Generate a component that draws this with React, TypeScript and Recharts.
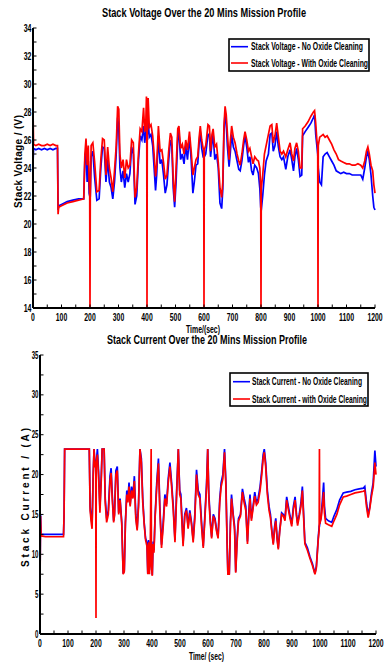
import React from 'react';
import { LineChart, Line, XAxis, YAxis, Legend } from 'recharts';

// ---------------- Stack voltage (V) ----------------
const voltTime = [
  0, 2, 10, 20, 30, 40, 50, 60, 70, 80,
  86, 88, 90, 100, 120, 140, 160, 178, 182, 186,
  190, 194, 197, 199, 200, 201, 204, 210, 216, 224,
  232, 238, 244, 250, 256, 262, 268, 274, 280, 286,
  292, 297, 301, 305, 310, 316, 322, 328, 334, 340,
  346, 352, 358, 364, 370, 376, 382, 388, 392, 396,
  398, 399, 400, 401, 404, 408, 414, 420, 425, 430,
  434, 440, 446, 452, 458, 464, 470, 476, 482, 487,
  492, 497, 502, 508, 512, 518, 524, 530, 536, 542,
  549, 555, 561, 566, 572, 578, 583, 587, 592, 597,
  599, 600, 601, 606, 614, 619, 623, 628, 632, 638,
  644, 650, 656, 662, 666, 670, 674, 678, 682, 688,
  692, 697, 703, 709, 716, 722, 727, 733, 739, 744,
  750, 756, 761, 767, 772, 778, 785, 791, 796, 799,
  800, 801, 806, 812, 818, 826, 832, 838, 843, 849,
  855, 861, 867, 873, 879, 887, 894, 902, 908, 914,
  919, 925, 931, 937, 943, 946, 955, 965, 975, 984,
  988, 992, 996, 999, 1000, 1001, 1006, 1012, 1018, 1025,
  1032, 1040, 1048, 1056, 1064, 1072, 1080, 1090, 1100, 1110,
  1120, 1130, 1140, 1150, 1157, 1164, 1170, 1175, 1180, 1186,
  1192, 1196, 1200,
];

const voltNoClean = [
  24.3, 25.4, 25.3, 25.4, 25.3, 25.4, 25.3, 25.4, 25.3, 25.4,
  25.4, 21.0, 21.3, 21.4, 21.6, 21.7, 21.8, 21.8, 24.6, 25.3,
  23.0, 24.5, 22.2, 22.0, 22.0, 22.0, 24.8, 25.2, 23.4, 21.7,
  21.8, 24.0, 25.5, 25.4, 23.0, 24.6, 23.0, 22.6, 21.8, 23.0,
  25.0, 27.6, 26.8, 24.0, 23.0, 23.8, 22.6, 23.6, 23.0, 23.6,
  25.5, 25.0, 21.4, 22.0, 24.5, 26.3, 26.0, 27.0, 25.8, 26.5,
  27.5, 26.5, 26.4, 26.4, 27.5, 26.2, 26.4, 25.6, 24.0, 22.4,
  23.5, 26.3, 24.3, 24.6, 23.5, 22.2, 22.8, 24.5, 26.0, 25.6,
  22.6, 21.2, 23.0, 26.2, 26.6, 24.6, 25.0, 24.3, 25.6, 24.6,
  26.2, 24.6, 22.2, 23.0, 24.2, 24.3, 25.8, 26.6, 25.4, 24.8,
  24.8, 24.8, 24.8, 25.0, 26.4, 26.4, 24.8, 25.8, 26.4, 24.6,
  25.0, 24.0, 21.5, 21.1, 22.5, 26.5, 28.0, 27.2, 25.6, 24.1,
  25.0, 26.4, 25.5, 25.2, 24.5, 23.9, 23.8, 24.5, 25.6, 26.3,
  25.5, 24.4, 24.8, 23.8, 23.5, 24.2, 24.0, 23.6, 22.5, 21.2,
  21.0, 21.0, 22.0, 23.5, 24.5, 25.0, 26.4, 26.5, 25.2, 25.6,
  26.6, 25.5, 24.8, 24.6, 24.8, 23.9, 24.8, 25.3, 24.6, 23.8,
  24.8, 25.4, 24.6, 23.4, 23.5, 26.3, 26.6, 26.9, 27.2, 27.6,
  27.8, 26.4, 25.6, 25.0, 24.6, 24.0, 23.0, 22.8, 24.8, 25.0,
  25.1, 24.8, 24.5, 24.2, 23.8, 23.7, 23.6, 23.7, 23.6, 23.6,
  23.5, 23.5, 23.5, 23.5, 23.2, 24.0, 24.8, 25.2, 24.6, 23.5,
  22.0, 21.2, 21.0,
];

const voltClean = [
  28.2, 25.7, 25.6, 25.7, 25.6, 25.6, 25.7, 25.6, 25.7, 25.6,
  25.6, 20.7, 21.2, 21.3, 21.5, 21.6, 21.7, 21.8, 25.0, 26.1,
  24.2, 25.6, 23.0, 22.0, 14, 22.0, 25.6, 25.8, 24.5, 22.3,
  22.4, 24.6, 26.1, 26.0, 23.5, 25.5, 24.0, 23.3, 22.3, 23.8,
  25.6, 28.4, 28.2, 25.0, 24.0, 24.6, 23.3, 24.6, 24.0, 24.2,
  26.0, 25.8, 21.9, 22.6, 25.0, 26.8, 26.6, 28.3, 26.6, 27.4,
  29.1, 28.5, 14, 27.0, 29.0, 26.9, 27.1, 26.3, 25.0, 23.4,
  24.2, 27.0, 25.2, 25.3, 24.4, 23.2, 23.5, 25.2, 26.5, 26.2,
  23.2, 21.6, 24.0, 26.8, 27.0, 25.4, 25.7, 25.0, 26.0, 25.3,
  26.6, 25.2, 23.5, 24.0, 24.6, 24.8, 26.2, 27.0, 26.0, 25.4,
  25.3, 14, 25.3, 25.6, 27.1, 27.0, 25.2, 26.4, 26.8, 25.5,
  25.7, 24.4, 22.6, 21.9, 23.0, 27.0, 28.4, 27.8, 26.5, 24.6,
  25.8, 27.0, 26.2, 25.8, 25.0, 24.5, 24.2, 25.0, 26.0, 26.6,
  26.0, 25.2, 25.4, 24.8, 24.3, 24.8, 24.6, 24.5, 24.0, 22.5,
  14, 22.5, 23.5, 25.0, 25.6, 26.4, 27.0, 27.1, 25.8, 26.3,
  27.2, 26.2, 25.2, 25.0, 25.2, 24.8, 25.3, 25.8, 25.0, 24.5,
  25.4, 25.8, 25.2, 24.0, 24.0, 26.8, 27.0, 27.3, 27.7, 28.0,
  28.1, 27.2, 26.0, 25.5, 14, 25.6, 26.2, 26.3, 26.4, 26.2,
  26.3, 26.0, 25.7, 25.3, 25.0, 24.6, 24.5, 24.4, 24.3, 24.3,
  24.2, 24.2, 24.3, 24.2, 24.0, 24.5, 25.2, 25.5, 25.0, 24.2,
  23.8, 22.8, 22.2,
];

// ---------------- Stack current (A) ----------------
const currTime = [
  0, 2, 4, 20, 40, 60, 84, 86, 88, 176,
  179, 183, 186, 190, 193, 196, 199, 200, 201, 205,
  209, 214, 219, 222, 229, 233, 238, 244, 250, 254,
  258, 263, 266, 271, 276, 281, 286, 292, 297, 301,
  305, 310, 314, 318, 322, 327, 332, 337, 342, 347,
  352, 357, 362, 367, 372, 377, 382, 385, 388, 391,
  394, 397, 398, 401, 404, 407, 411, 417, 423, 428,
  434, 440, 446, 452, 458, 464, 470, 476, 482, 488,
  494, 499, 503, 507, 511, 517, 523, 529, 535, 541,
  547, 553, 559, 565, 571, 577, 583, 589, 595, 599,
  603, 608, 613, 619, 625, 631, 636, 642, 647, 653,
  659, 664, 668, 671, 676, 680, 684, 690, 695, 699,
  704, 709, 716, 723, 729, 735, 741, 746, 750, 755,
  761, 767, 773, 779, 786, 792, 797, 801, 806, 812,
  818, 823, 828, 833, 838, 842, 847, 851, 856, 863,
  869, 875, 881, 887, 893, 899, 905, 911, 916, 920,
  926, 932, 937, 941, 946, 955, 964, 973, 982, 987,
  994, 997, 998, 999, 1004, 1010, 1013, 1016, 1020, 1030,
  1042, 1050, 1060, 1070, 1083, 1095, 1110, 1125, 1140, 1155,
  1160, 1166, 1172, 1178, 1184, 1190, 1196, 1200,
];

const currNoClean = [
  6.5, 15.0, 12.5, 12.5, 12.5, 12.5, 12.5, 15.0, 23.2, 23.2,
  16.0, 14.5, 13.8, 20.0, 23.2, 21.5, 21.0, 21.0, 21.5, 23.2,
  20.5, 15.8, 20.0, 23.2, 23.2, 17.0, 14.5, 15.5, 19.8, 20.8,
  17.5, 14.2, 15.0, 20.5, 21.0, 15.2, 17.0, 14.0, 7.6, 8.0,
  14.0, 18.0, 17.0, 19.0, 16.2, 18.5, 17.2, 19.8, 15.0, 13.2,
  16.5, 23.2, 22.0, 17.0, 14.0, 12.0, 11.5, 7.6, 11.8, 8.0,
  11.6, 9.0, 9.0, 7.4, 11.6, 10.5, 14.8, 19.0, 22.0, 16.0,
  11.2, 14.0, 17.5, 16.3, 19.5, 21.5, 19.0, 16.0, 11.8, 18.0,
  23.2, 18.0, 17.5, 14.5, 11.4, 15.0, 15.8, 13.5, 15.5, 14.0,
  11.8, 15.0, 20.6, 18.0, 17.5, 14.0, 11.0, 15.0, 19.0, 23.2,
  17.5, 14.5, 12.2, 15.0, 14.5, 13.0, 12.2, 17.0, 19.0, 20.0,
  23.2, 19.0, 12.0, 7.6, 7.6, 14.0, 17.5, 15.0, 13.5, 7.8,
  12.0, 14.5, 15.0, 18.2, 17.0, 16.0, 11.6, 15.5, 17.5, 14.5,
  16.0, 17.8, 16.5, 17.0, 18.5, 20.5, 22.5, 23.2, 21.5, 18.0,
  16.0, 15.0, 13.0, 11.4, 13.5, 14.5, 12.0, 10.8, 13.0, 15.2,
  15.0, 14.5, 17.2, 16.0, 14.8, 13.8, 16.0, 17.2, 15.0, 13.9,
  15.0, 16.5, 18.5, 15.5, 11.5, 10.8, 9.7, 8.8, 7.6, 8.5,
  12.2, 13.5, 13.5, 13.8, 14.7, 17.5, 19.0, 16.0, 14.5, 14.2,
  14.0, 14.8, 15.6, 16.8, 17.7, 17.8, 17.9, 18.1, 18.2, 18.3,
  18.5, 16.5, 14.9, 16.0, 17.7, 19.0, 23.0, 21.0,
];

const currClean = [
  6.0, 14.8, 12.3, 12.2, 12.2, 12.2, 12.2, 15.0, 23.2, 23.2,
  15.5, 14.0, 13.2, 20.0, 23.2, 21.0, 21.0, 2.0, 21.5, 22.5,
  20.0, 15.2, 19.5, 23.2, 23.2, 16.5, 14.0, 15.0, 19.2, 20.2,
  17.0, 14.0, 14.8, 20.0, 20.5, 15.0, 16.8, 13.8, 7.5, 7.8,
  13.8, 17.5, 16.5, 18.5, 16.0, 18.0, 17.0, 19.2, 14.5, 13.0,
  16.0, 23.2, 21.5, 16.5, 13.8, 11.8, 11.0, 7.5, 11.5, 7.5,
  11.2, 23.2, 8.5, 7.3, 11.3, 10.2, 14.5, 18.5, 21.4, 15.5,
  10.8, 13.5, 17.0, 16.0, 19.0, 21.0, 18.5, 15.5, 11.5, 17.5,
  23.2, 17.5, 17.0, 14.0, 11.0, 14.8, 15.5, 13.2, 15.2, 13.8,
  11.5, 14.5, 20.0, 17.5, 17.0, 13.5, 10.8, 14.5, 18.5, 23.2,
  17.0, 14.0, 12.0, 14.8, 14.2, 12.8, 12.0, 16.5, 18.5, 19.5,
  22.8, 18.5, 11.5, 7.5, 7.5, 13.5, 17.0, 14.8, 13.0, 7.7,
  11.5, 14.2, 14.8, 17.8, 16.5, 15.5, 11.3, 15.0, 17.0, 14.2,
  15.8, 17.3, 16.2, 16.5, 18.0, 20.0, 22.0, 22.8, 21.0, 17.5,
  15.5, 14.6, 12.8, 11.2, 13.2, 14.2, 11.8, 10.6, 12.8, 15.0,
  14.8, 14.2, 16.8, 15.6, 14.5, 13.5, 15.6, 16.8, 14.8, 13.6,
  14.8, 16.0, 18.0, 15.0, 11.3, 10.5, 9.5, 8.6, 7.5, 8.3,
  12.0, 13.0, 23.2, 13.8, 14.5, 16.5, 17.8, 15.2, 13.9, 13.7,
  13.5, 14.2, 15.0, 16.2, 17.2, 17.3, 17.5, 17.7, 17.8, 17.9,
  18.0, 16.0, 14.6, 15.8, 17.3, 18.5, 21.5, 20.0,
];

// ---------------- Ticks & labels ----------------
const timeTicks = [0, 50, 100, 150, 200, 250, 300, 350, 400, 450, 500, 550, 600, 650, 700, 750, 800, 850, 900, 950, 1000, 1050, 1100, 1150, 1200];
const voltTicks = [14, 15, 16, 17, 18, 19, 20, 21, 22, 23, 24, 25, 26, 27, 28, 29, 30, 31, 32, 33, 34];
const currTicks = [0, 2.5, 5, 7.5, 10, 12.5, 15, 17.5, 20, 22.5, 25, 27.5, 30, 32.5, 35];

const voltTitle = 'Stack Voltage Over the 20 Mins Mission Profile';
const currTitle = 'Stack Current Over the 20 Mins Mission Profile';
const voltYLabel = 'Stack Voltage / (V)';
const currYLabel = 'Stack Current / (A)';
const voltXLabel = 'Time/(sec)';
const currXLabel = 'Time/ (sec)';
const voltLegend = ['Stack Voltage - No Oxide Cleaning', 'Stack Voltage - With Oxide Cleaning'];
const currLegend = ['Stack Current - No Oxide Cleaning', 'Stack Current - with Oxide Cleaning'];

const FONT = "'Liberation Sans Narrow','Liberation Sans',Arial,sans-serif";
const BLUE = '#0000ff';
const RED = '#ff0000';

const voltData = voltTime.map((t, i) => ({ t, noClean: voltNoClean[i], clean: voltClean[i] }));
const currData = currTime.map((t, i) => ({ t, noClean: currNoClean[i], clean: currClean[i] }));

function BottomTick(props: any) {
  const { x, y, payload } = props;
  const v = payload.value;
  const s = String(v);
  return (
    <g>
      <line x1={x} y1={y} x2={x} y2={y - 3.5} stroke="#000" strokeWidth={1} />
      {v % 100 === 0 && (
        <text x={x} y={y + 12.7} textAnchor="middle" fontFamily={FONT} fontWeight="bold" fontSize={10} fill="#000"
          textLength={s.length * 3.8} lengthAdjust="spacingAndGlyphs">{s}</text>
      )}
    </g>
  );
}

function TopTick(props: any) {
  const { x, y } = props;
  return <line x1={x} y1={y} x2={x} y2={y + 3.5} stroke="#000" strokeWidth={1} />;
}

function RightTick(props: any) {
  const { x, y } = props;
  return <line x1={x} y1={y} x2={x - 3.5} y2={y} stroke="#000" strokeWidth={1} />;
}

function makeLeftTick(step: number, digitW: number) {
  return (props: any) => {
    const { x, y, payload } = props;
    const v = payload.value;
    const s = String(v);
    return (
      <g>
        <line x1={x} y1={y} x2={x + 3.5} y2={y} stroke="#000" strokeWidth={1} />
        {v % step === 0 && (
          <text x={x - 1.5} y={y + 3.6} textAnchor="end" fontFamily={FONT} fontWeight="bold" fontSize={10} fill="#000"
            textLength={s.length * digitW} lengthAdjust="spacingAndGlyphs">{s}</text>
        )}
      </g>
    );
  };
}

const VoltLeftTick = makeLeftTick(2, 3.9);
const CurrLeftTick = makeLeftTick(5, 3.4);

function LegendBox(p: { labels: string[]; widths: number[]; w: number; h: number; rows: number[]; lx1: number; lx2: number; tx: number }) {
  const colors = [BLUE, RED];
  return (
    <svg width={p.w} height={p.h} style={{ display: 'block', overflow: 'visible' }}>
      <rect x={1} y={1} width={p.w - 2} height={p.h - 2} fill="#fff" stroke="#000" strokeWidth={1.6} />
      {p.labels.map((lab, i) => (
        <g key={lab}>
          <line x1={p.lx1} y1={p.rows[i]} x2={p.lx2} y2={p.rows[i]} stroke={colors[i]} strokeWidth={1.6} />
          <text x={p.tx} y={p.rows[i] + 3.6} fontFamily={FONT} fontWeight="bold" fontSize={10.5} fill="#000"
            textLength={p.widths[i]} lengthAdjust="spacingAndGlyphs">{lab}</text>
        </g>
      ))}
    </svg>
  );
}

const axisLineStyle = { stroke: '#000', strokeWidth: 2 };

export default function App() {
  return (
    <div style={{ position: 'absolute', left: 0, top: 0, width: 384, height: 669, background: '#fff', overflow: 'hidden' }}>
      <div style={{ position: 'absolute', left: 0, top: 0 }}>
        <LineChart width={384} height={330} data={voltData} margin={{ top: 28, right: 9, bottom: 0, left: 0 }}>
          <XAxis dataKey="t" type="number" domain={[0, 1200]} ticks={timeTicks} interval={0} height={22}
            tickSize={0} tickMargin={0} tickLine={false} axisLine={axisLineStyle} tick={BottomTick} />
          <XAxis xAxisId="top" orientation="top" type="number" domain={[0, 1200]} ticks={timeTicks} interval={0} height={0}
            tickSize={0} tickMargin={0} tickLine={false} axisLine={axisLineStyle} tick={TopTick} />
          <YAxis type="number" domain={[14, 34]} ticks={voltTicks} interval={0} width={33} allowDataOverflow
            tickSize={0} tickMargin={0} tickLine={false} axisLine={axisLineStyle} tick={VoltLeftTick} />
          <YAxis yAxisId="right" orientation="right" type="number" domain={[14, 34]} ticks={voltTicks} interval={0} width={0}
            tickSize={0} tickMargin={0} tickLine={false} axisLine={axisLineStyle} tick={RightTick} />
          <Line dataKey="noClean" stroke={BLUE} strokeWidth={1.7} dot={false} isAnimationActive={false} type="linear" />
          <Line dataKey="clean" stroke={RED} strokeWidth={1.7} dot={false} isAnimationActive={false} type="linear" />
          <Legend layout="vertical" align="center" verticalAlign="middle"
            wrapperStyle={{ left: 228, top: 38, width: 142, height: 34 }}
            content={() => (
              <LegendBox labels={voltLegend} widths={[112, 117]} w={142} h={34} rows={[8.7, 25]} lx1={3} lx2={20} tx={23} />
            )} />
        </LineChart>
      </div>
      <div style={{ position: 'absolute', left: 0, top: 330 }}>
        <LineChart width={384} height={339} data={currData} margin={{ top: 25, right: 8, bottom: 0, left: 0 }}>
          <XAxis dataKey="t" type="number" domain={[0, 1200]} ticks={timeTicks} interval={0} height={35}
            tickSize={0} tickMargin={0} tickLine={false} axisLine={axisLineStyle} tick={BottomTick} />
          <XAxis xAxisId="top" orientation="top" type="number" domain={[0, 1200]} ticks={timeTicks} interval={0} height={0}
            tickSize={0} tickMargin={0} tickLine={false} axisLine={axisLineStyle} tick={TopTick} />
          <YAxis type="number" domain={[0, 35]} ticks={currTicks} interval={0} width={40} allowDataOverflow
            tickSize={0} tickMargin={0} tickLine={false} axisLine={axisLineStyle} tick={CurrLeftTick} />
          <YAxis yAxisId="right" orientation="right" type="number" domain={[0, 35]} ticks={currTicks} interval={0} width={0}
            tickSize={0} tickMargin={0} tickLine={false} axisLine={axisLineStyle} tick={RightTick} />
          <Line dataKey="noClean" stroke={BLUE} strokeWidth={1.7} dot={false} isAnimationActive={false} type="linear" />
          <Line dataKey="clean" stroke={RED} strokeWidth={1.7} dot={false} isAnimationActive={false} type="linear" />
          <Legend layout="vertical" align="center" verticalAlign="middle"
            wrapperStyle={{ left: 229, top: 42, width: 140, height: 35 }}
            content={() => (
              <LegendBox labels={currLegend} widths={[110, 115]} w={140} h={35} rows={[9.7, 27]} lx1={4} lx2={21} tx={23} />
            )} />
        </LineChart>
      </div>
      <svg width={384} height={669} style={{ position: 'absolute', left: 0, top: 0, pointerEvents: 'none' }}>
        <text x={204} y={17} textAnchor="middle" fontFamily={FONT} fontWeight="bold" fontSize={13} fill="#000"
          textLength={204} lengthAdjust="spacingAndGlyphs">{voltTitle}</text>
        <text x={203} y={333} textAnchor="middle" fontFamily={FONT} fontWeight="bold" fontSize={10} fill="#000"
          textLength={34} lengthAdjust="spacingAndGlyphs">{voltXLabel}</text>
        <text x={21.5} y={161.5} transform="rotate(-90, 21.5, 161.5)" textAnchor="middle" fontFamily={FONT} fontWeight="bold"
          fontSize={10} fill="#000" textLength={93} lengthAdjust="spacing">{voltYLabel}</text>
        <text x={207} y={343.5} textAnchor="middle" fontFamily={FONT} fontWeight="bold" fontSize={13} fill="#000"
          textLength={200} lengthAdjust="spacingAndGlyphs">{currTitle}</text>
        <text x={206.5} y={660} textAnchor="middle" fontFamily={FONT} fontWeight="bold" fontSize={11} fill="#000"
          textLength={35} lengthAdjust="spacingAndGlyphs">{currXLabel}</text>
        <text x={28.5} y={497.5} transform="rotate(-90, 28.5, 497.5)" textAnchor="middle" fontFamily={FONT} fontWeight="bold"
          fontSize={10} fill="#000" textLength={139} lengthAdjust="spacing">{currYLabel}</text>
      </svg>
    </div>
  );
}
